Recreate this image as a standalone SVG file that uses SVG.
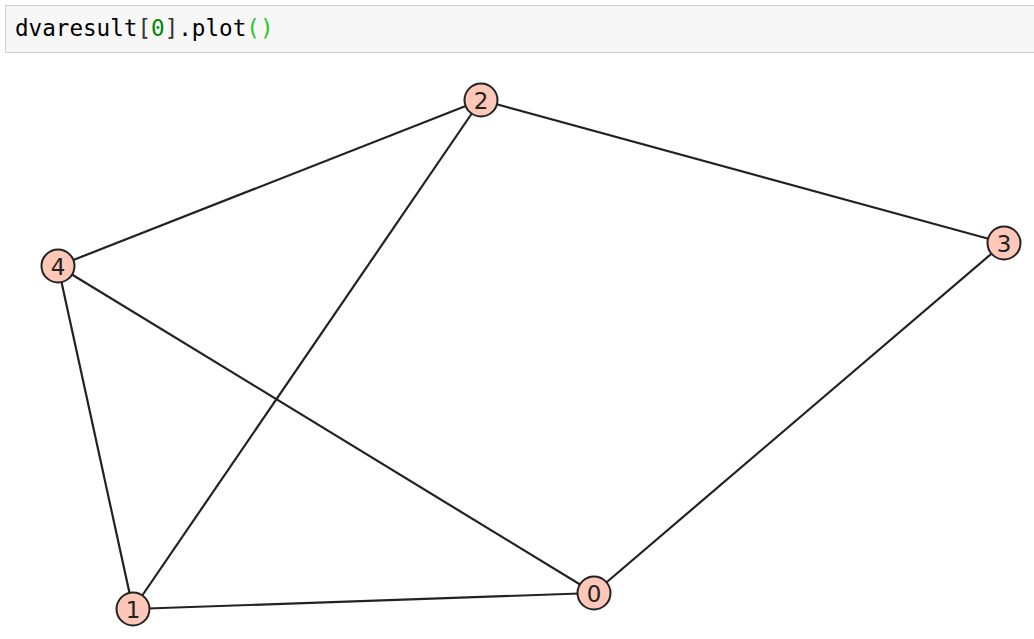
<svg xmlns="http://www.w3.org/2000/svg" width="1034" height="639" viewBox="0 0 1034 639">
<style>
.edge{stroke:#222;stroke-width:2.2;fill:none}
.node circle{fill:#fec7b8;stroke:#222;stroke-width:2}
.node text{font-family:"DejaVu Sans",sans-serif;font-size:23px;fill:#222;text-anchor:middle;dominant-baseline:central}
.code{font-family:"DejaVu Sans Mono","Liberation Mono",monospace;font-size:22.6px}
</style>
<rect x="0" y="0" width="1034" height="639" fill="#fff"/>
<g id="cell">
<rect x="5.5" y="5.5" width="1040" height="47" fill="#f7f7f7" stroke="#cfcfcf" stroke-width="1"/>
<text class="code" x="15" y="36"><tspan fill="#000">dvaresult</tspan><tspan fill="#333">[</tspan><tspan fill="#080">0</tspan><tspan fill="#333">]</tspan><tspan fill="#000">.plot</tspan><tspan fill="#2c2">()</tspan></text>
</g>
<g id="edges">
<line class="edge" x1="481" y1="100" x2="58" y2="266"/>
<line class="edge" x1="481" y1="100" x2="133" y2="609"/>
<line class="edge" x1="481" y1="100" x2="1004" y2="243"/>
<line class="edge" x1="58" y1="266" x2="133" y2="609"/>
<line class="edge" x1="58" y1="266" x2="594" y2="593"/>
<line class="edge" x1="133" y1="609" x2="594" y2="593"/>
<line class="edge" x1="594" y1="593" x2="1004" y2="243"/>
</g>
<g id="node-0" class="node"><circle cx="594" cy="593" r="16.5"/><text x="594" y="594">0</text></g>
<g id="node-1" class="node"><circle cx="133" cy="609" r="16.5"/><text x="133" y="610">1</text></g>
<g id="node-2" class="node"><circle cx="481" cy="100" r="16.5"/><text x="481" y="101">2</text></g>
<g id="node-3" class="node"><circle cx="1004" cy="243" r="16.5"/><text x="1004" y="244">3</text></g>
<g id="node-4" class="node"><circle cx="58" cy="266" r="16.5"/><text x="58" y="267">4</text></g>
</svg>
